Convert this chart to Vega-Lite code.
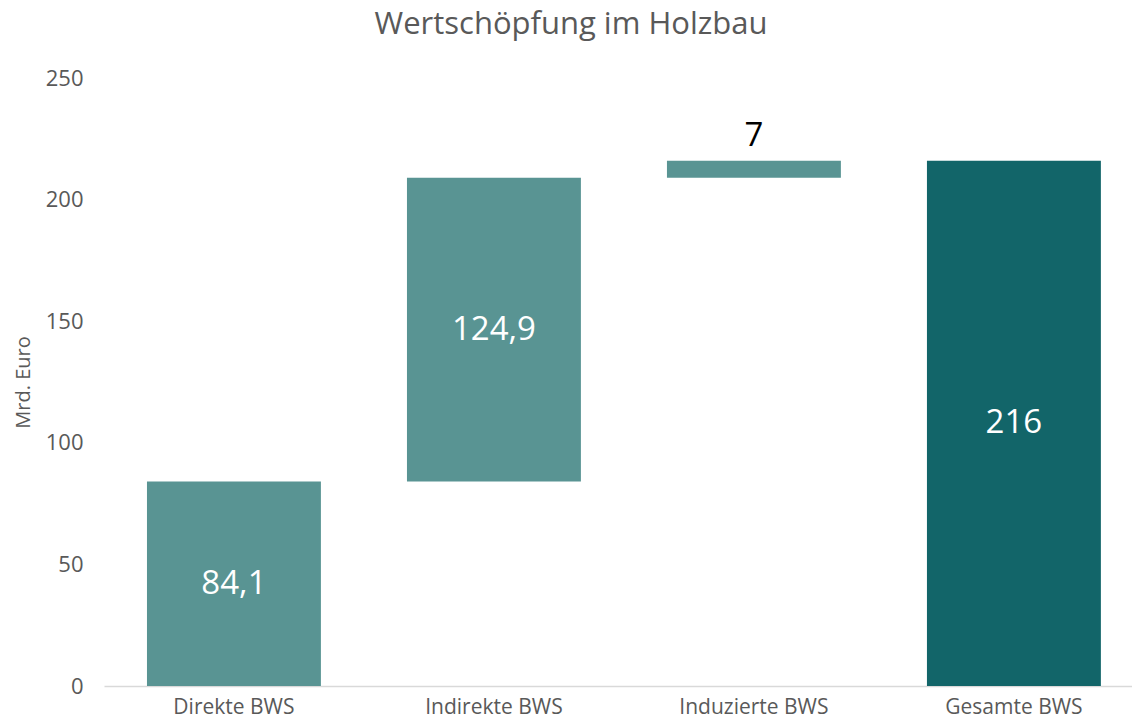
{
  "$schema": "https://vega.github.io/schema/vega-lite/v6.json",
  "autosize": "none",
  "width": 1028,
  "height": 608,
  "padding": {"left": 104, "top": 78, "right": 0, "bottom": 41},
  "background": "white",
  "title": {
    "text": "Wertschöpfung im Holzbau",
    "font": "Open Sans",
    "fontSize": 31,
    "fontWeight": "normal",
    "color": "#595959",
    "anchor": "middle",
    "offset": 0,
    "dx": -47,
    "dy": -26,
    "frame": "group"
  },
  "config": {
    "view": {"stroke": null},
    "font": "Open Sans"
  },
  "data": {
    "values": [
      {"kategorie": "Direkte BWS", "start": 0, "ende": 84.1, "label": "84,1", "typ": "teil", "pos": "innen"},
      {"kategorie": "Indirekte BWS", "start": 84.1, "ende": 209, "label": "124,9", "typ": "teil", "pos": "innen"},
      {"kategorie": "Induzierte BWS", "start": 209, "ende": 216, "label": "7", "typ": "teil", "pos": "oben"},
      {"kategorie": "Gesamte BWS", "start": 0, "ende": 216, "label": "216", "typ": "gesamt", "pos": "innen"}
    ]
  },
  "encoding": {
    "x": {
      "field": "kategorie",
      "type": "nominal",
      "sort": null,
      "scale": {"paddingInner": 0.331, "paddingOuter": 0.1425, "align": 0.58},
      "axis": {
        "title": null,
        "labelAngle": 0,
        "labelFont": "Open Sans",
        "labelFontSize": 21,
        "labelColor": "#595959",
        "labelPadding": 10,
        "ticks": false,
        "domainColor": "#d9d9d9",
        "domainWidth": 1.5
      }
    }
  },
  "layer": [
    {
      "mark": {"type": "bar"},
      "encoding": {
        "y": {
          "field": "start",
          "type": "quantitative",
          "scale": {"domain": [0, 250], "nice": false},
          "axis": {
            "title": "Mrd. Euro",
            "titleFont": "Open Sans",
            "titleFontSize": 20,
            "titleFontWeight": "normal",
            "titleColor": "#595959",
            "titlePadding": 12,
            "values": [0, 50, 100, 150, 200, 250],
            "labelFont": "Open Sans",
            "labelFontSize": 22,
            "labelColor": "#595959",
            "labelPadding": 21,
            "domain": false,
            "ticks": false,
            "grid": false
          }
        },
        "y2": {"field": "ende"},
        "color": {
          "field": "typ",
          "type": "nominal",
          "scale": {"domain": ["teil", "gesamt"], "range": ["#599493", "#126569"]},
          "legend": null
        }
      }
    },
    {
      "transform": [
        {"filter": "datum.pos === 'innen'"},
        {"calculate": "(datum.start + datum.ende) / 2", "as": "mitte"}
      ],
      "mark": {"type": "text", "font": "Open Sans", "fontSize": 33, "color": "white", "baseline": "middle"},
      "encoding": {
        "y": {"field": "mitte", "type": "quantitative"},
        "text": {"field": "label"}
      }
    },
    {
      "transform": [{"filter": "datum.pos === 'oben'"}],
      "mark": {"type": "text", "font": "Open Sans", "fontSize": 33, "color": "black", "baseline": "bottom", "dy": -8},
      "encoding": {
        "y": {"field": "ende", "type": "quantitative"},
        "text": {"field": "label"}
      }
    }
  ]
}
